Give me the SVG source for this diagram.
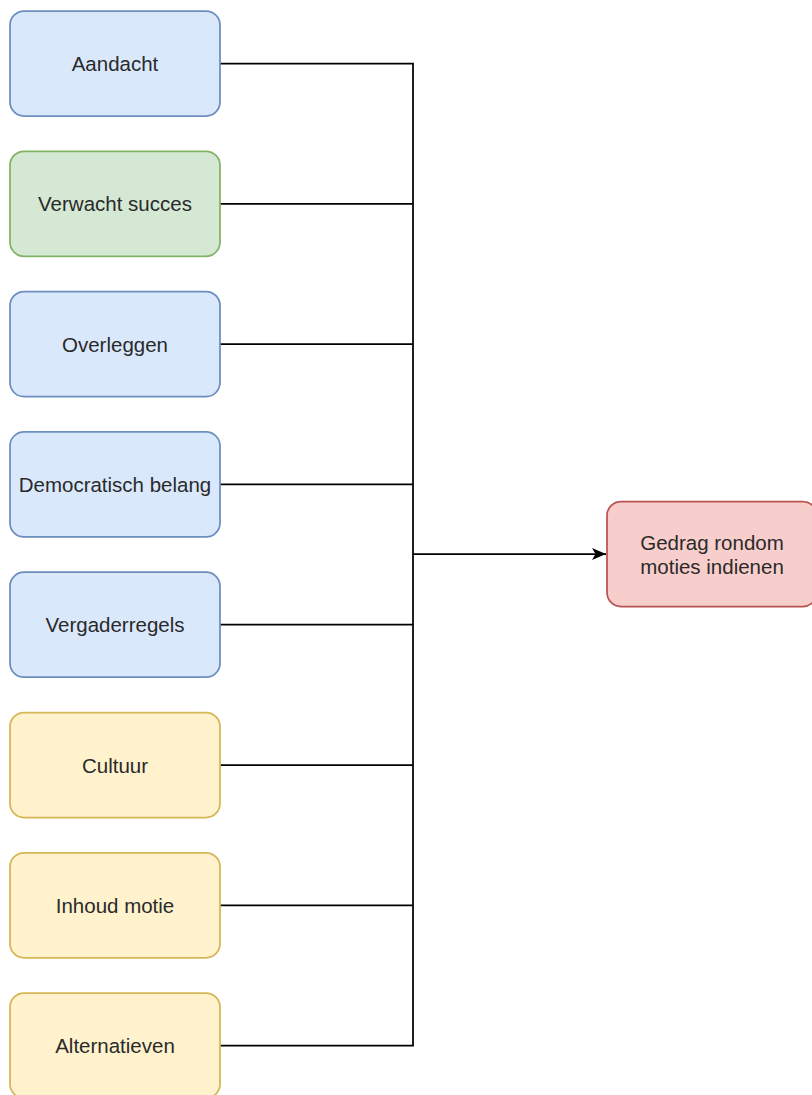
<svg xmlns="http://www.w3.org/2000/svg" width="812" height="1095" viewBox="0 0 812 1095">
<style>
.n rect{stroke-width:1.75}
.blue rect{fill:#dae8fc;stroke:#6c8ebf}
.green rect{fill:#d5e8d4;stroke:#82b366}
.yellow rect{fill:#fff2cc;stroke:#d6b656}
.red rect{fill:#f8cecc;stroke:#b85450}
.n text{font-family:"Liberation Sans",Arial,sans-serif;font-size:20.5px;fill:#2a2a2a;text-anchor:middle;dominant-baseline:central}
#connectors path{fill:none;stroke:#000;stroke-width:1.75}
</style>
<defs>
<marker id="arr" viewBox="0 0 14 14" refX="14" refY="7" markerWidth="14" markerHeight="14" markerUnits="userSpaceOnUse" orient="auto">
<path d="M0,1 L14,7 L0,13 L3.5,7 Z" fill="#000"/>
</marker>
</defs>
<rect width="812" height="1095" fill="#fff"/>
<g id="connectors">
<path d="M220,63.5 H413 V554"/>
<path d="M220,203.8 H413"/>
<path d="M220,344.1 H413"/>
<path d="M220,484.4 H413"/>
<path d="M220,624.7 H413"/>
<path d="M220,765 H413"/>
<path d="M220,905.3 H413"/>
<path d="M220,1045.6 H413 V554"/>
<path d="M413,554 H606" marker-end="url(#arr)"/>
</g>
<g id="aandacht" class="n blue"><rect x="10" y="11" width="210" height="105" rx="14"/><text x="115" y="63.5">Aandacht</text></g>
<g id="verwacht-succes" class="n green"><rect x="10" y="151.3" width="210" height="105" rx="14"/><text x="115" y="203.8">Verwacht succes</text></g>
<g id="overleggen" class="n blue"><rect x="10" y="291.6" width="210" height="105" rx="14"/><text x="115" y="344.1">Overleggen</text></g>
<g id="democratisch-belang" class="n blue"><rect x="10" y="431.9" width="210" height="105" rx="14"/><text x="115" y="484.4">Democratisch belang</text></g>
<g id="vergaderregels" class="n blue"><rect x="10" y="572.2" width="210" height="105" rx="14"/><text x="115" y="624.7">Vergaderregels</text></g>
<g id="cultuur" class="n yellow"><rect x="10" y="712.5" width="210" height="105" rx="14"/><text x="115" y="765">Cultuur</text></g>
<g id="inhoud-motie" class="n yellow"><rect x="10" y="852.8" width="210" height="105" rx="14"/><text x="115" y="905.3">Inhoud motie</text></g>
<g id="alternatieven" class="n yellow"><rect x="10" y="993.1" width="210" height="105" rx="14"/><text x="115" y="1045.6">Alternatieven</text></g>
<g id="gedrag" class="n red"><rect x="607" y="501.5" width="210" height="105" rx="14"/><text x="712" y="542">Gedrag rondom</text><text x="712" y="566">moties indienen</text></g>
</svg>
